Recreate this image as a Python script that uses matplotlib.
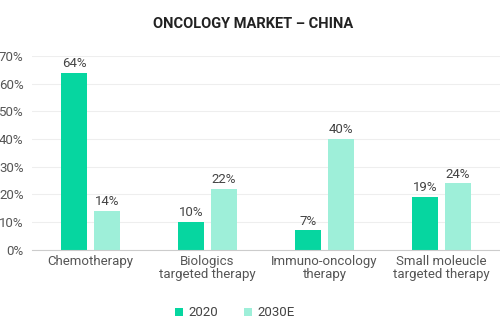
import numpy as np
import matplotlib
matplotlib.use("Agg")
import matplotlib.pyplot as plt
from matplotlib.ticker import FuncFormatter

categories = ["Chemotherapy", "Biologics\ntargeted therapy",
              "Immuno-oncology\ntherapy", "Small moleucle\ntargeted therapy"]
values_2020 = [64, 10, 7, 19]
values_2030 = [14, 22, 40, 24]
series_names = ["2020", "2030E"]

plt.rcParams["font.family"] = ["Roboto", "DejaVu Sans"]

fig = plt.figure(figsize=(5.0, 3.22), dpi=100)
ax = fig.add_axes([0.064, 0.224, 0.936, 0.602])

x = np.arange(len(categories))
w = 0.227
off = 0.141
c1, c2 = "#06D6A0", "#9EEFD9"
b1 = ax.bar(x - off, values_2020, w, color=c1, label=series_names[0], zorder=3)
b2 = ax.bar(x + off, values_2030, w, color=c2, label=series_names[1], zorder=3)

for bars, vals in ((b1, values_2020), (b2, values_2030)):
    for bar, v in zip(bars, vals):
        ax.annotate(f"{v}%", (bar.get_x() + bar.get_width() / 2, v),
                    xytext=(0, 2), textcoords="offset points",
                    ha="center", va="bottom", fontsize=9.5, color="#444444")

ax.set_xlim(-0.5, 3.5)
ax.set_ylim(0, 70)
ax.set_yticks(range(0, 71, 10))
ax.yaxis.set_major_formatter(FuncFormatter(lambda v, p: f"{v:.0f}%"))
ax.set_xticks(x)
ax.set_xticklabels(categories, linespacing=1.0)
ax.tick_params(axis="both", length=0, labelsize=9.5, labelcolor="#555555")
ax.tick_params(axis="y", pad=6)
ax.tick_params(axis="x", pad=4)
ax.grid(axis="y", color="#eeeeee", linewidth=0.8, zorder=0)
for s in ("top", "right", "left"):
    ax.spines[s].set_visible(False)
ax.spines["bottom"].set_color("#cccccc")
ax.spines["bottom"].set_zorder(4)

fig.text(0.506, 0.925, "ONCOLOGY MARKET \u2013 CHINA", ha="center", va="center",
         fontsize=10.5, fontweight="bold", color="#222222")

fig.legend(handles=[b1, b2], labels=series_names, loc="center",
           bbox_to_anchor=(0.47, 0.028), ncol=2, frameon=False,
           fontsize=9.5, handlelength=0.6, handleheight=0.6,
           columnspacing=2.0, handletextpad=0.4, labelcolor="#444444")

fig.savefig("out.png", dpi=100)
